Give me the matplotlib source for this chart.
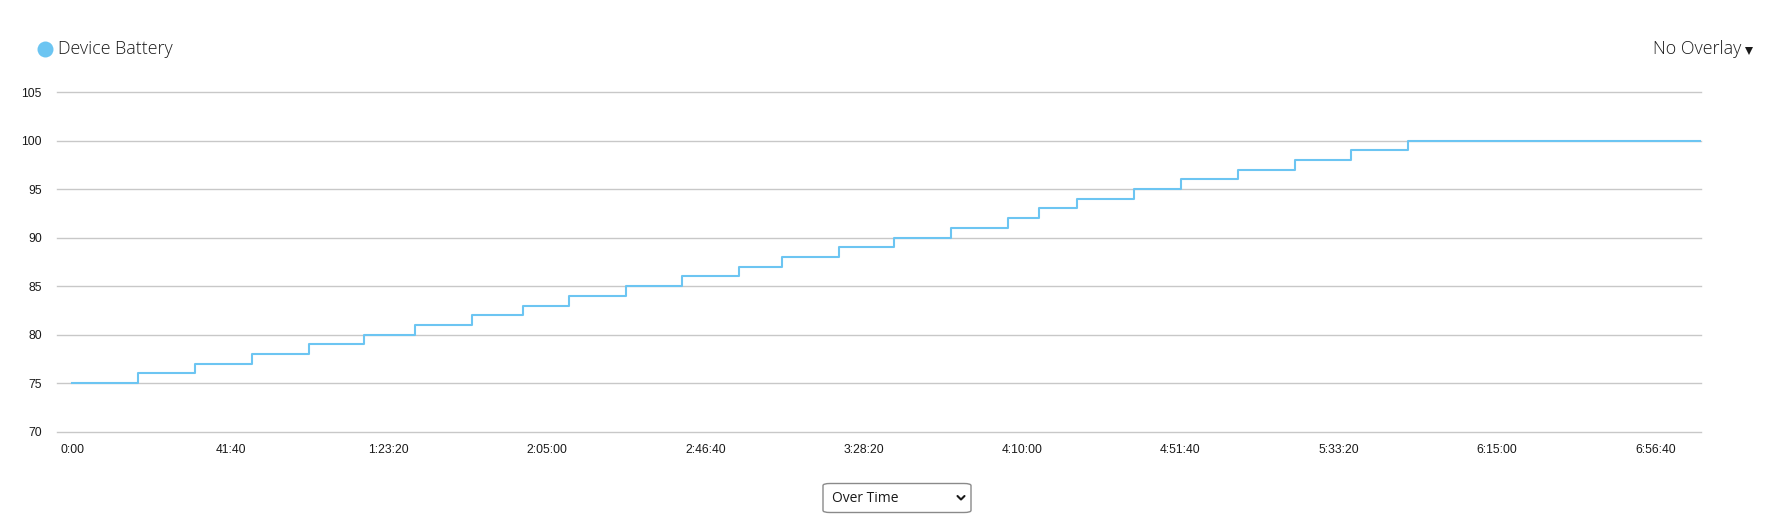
import matplotlib
matplotlib.use("Agg")
import matplotlib.pyplot as plt
from matplotlib.lines import Line2D
from matplotlib.patches import FancyBboxPatch
from matplotlib.ticker import FuncFormatter

# ---- data (seconds since start, battery %) ----
times_s = [0, 1042, 1942, 2838, 3733, 4607, 5417, 6307, 7123, 7849, 8745,
           9634, 10529, 11213, 12113, 12972, 13872, 14773, 15262, 15862,
           16763, 17505, 18405, 19310, 20190, 21094, 25717]
battery_pct = [75, 76, 77, 78, 79, 80, 81, 82, 83, 84, 85, 86, 87, 88, 89,
               90, 91, 92, 93, 94, 95, 96, 97, 98, 99, 100, 100]
x_ticks = [0, 2500, 5000, 7500, 10000, 12500, 15000, 17500, 20000, 22500, 25000]
y_ticks = [70, 75, 80, 85, 90, 95, 100, 105]
series_name = "Device Battery"
overlay_label = "No Overlay"
mode_label = "Over Time"

W, H = 1767, 522
LINE_COLOR = "#6cc5f2"
GRID_COLOR = "#c8c8c8"
TEXT_COLOR = "#1a1a1a"

def fx(px):
    return px / W

def fy(py):
    return 1 - py / H

fig = plt.figure(figsize=(W / 100, H / 100), dpi=100)
fig.patch.set_facecolor("white")

ax_left, ax_right, ax_top, ax_bot = 57, 1700.7, 92, 431.7
ax = fig.add_axes([fx(ax_left), fy(ax_bot), (ax_right - ax_left) / W, (ax_bot - ax_top) / H])

ax.plot(times_s, battery_pct, drawstyle="steps-post", color=LINE_COLOR, lw=1.5, zorder=3)

px_per_s = 0.06332
ax.set_xlim((ax_left - 72.3) / px_per_s, times_s[-1])
ax.set_ylim(70, 105)
ax.set_xticks(x_ticks)
ax.set_yticks(y_ticks)

def fmt_time(v, pos=None):
    v = int(round(v))
    h, rem = divmod(v, 3600)
    m, s = divmod(rem, 60)
    if h == 0:
        return f"{m}:{s:02d}"
    return f"{h}:{m:02d}:{s:02d}"

ax.xaxis.set_major_formatter(FuncFormatter(fmt_time))
ax.grid(axis="y", color=GRID_COLOR, lw=1.0)
ax.grid(axis="x", visible=False)
ax.set_axisbelow(True)
for gl in ax.get_ygridlines():
    gl.set_clip_on(False)
for sp in ax.spines.values():
    sp.set_visible(False)
ax.tick_params(axis="both", length=0, labelsize=8.7, labelcolor=TEXT_COLOR)
ax.tick_params(axis="y", pad=11)
ax.tick_params(axis="x", pad=9)
for lab in ax.get_xticklabels() + ax.get_yticklabels():
    lab.set_family(["Liberation Sans", "DejaVu Sans"])
ax.set_facecolor("white")

# legend marker + label
fig.add_artist(Line2D([fx(45)], [fy(48.5)], marker="o", markersize=11.5,
                      color=LINE_COLOR, markeredgewidth=0, transform=fig.transFigure))
fig.text(fx(58), fy(49.5), series_name, fontsize=12.9, family=["Open Sans", "DejaVu Sans"],
         fontweight="light", color=TEXT_COLOR, va="center", ha="left")

# overlay selector
fig.text(fx(1741), fy(49.5), overlay_label, fontsize=12.9, family=["Open Sans", "DejaVu Sans"],
         fontweight="light", color=TEXT_COLOR, va="center", ha="right")
fig.add_artist(Line2D([fx(1749)], [fy(51)], marker="v", markersize=5.5, color=TEXT_COLOR,
                      markeredgewidth=0, transform=fig.transFigure))

# dropdown box
box = FancyBboxPatch((fx(823), fy(512.5)), (971 - 823) / W, (512.5 - 483.5) / H,
                     boxstyle="round,pad=0,rounding_size=0.004", transform=fig.transFigure,
                     facecolor="white", edgecolor="#8a8a8a", lw=1.0)
fig.add_artist(box)
fig.text(fx(832), fy(498.5), mode_label, fontsize=10, family=["Open Sans", "DejaVu Sans"],
         color=TEXT_COLOR, va="center", ha="left")
fig.add_artist(Line2D([fx(957.5), fx(961), fx(964.5)], [fy(496), fy(499.5), fy(496)],
                      color=TEXT_COLOR, lw=1.5, transform=fig.transFigure,
                      solid_capstyle="round", solid_joinstyle="round"))

fig.savefig("out.png", dpi=100, facecolor="white")
